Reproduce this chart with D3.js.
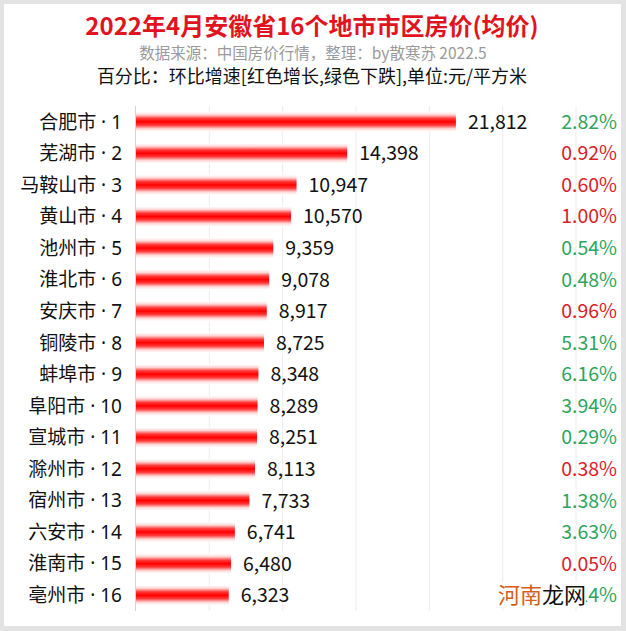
<!DOCTYPE html>
<html><head><meta charset="utf-8">
<script src="https://cdn.jsdelivr.net/npm/d3@7"></script>
<style>
html,body{margin:0;padding:0;background:#fff;}
svg{display:block;}
</style></head>
<body>
<svg id="chart" width="626" height="631"></svg>
<script>
const cities = ["合肥市","芜湖市","马鞍山市","黄山市","池州市","淮北市","安庆市","铜陵市","蚌埠市","阜阳市","宣城市","滁州市","宿州市","六安市","淮南市","亳州市"];
const prices = [21812,14398,10947,10570,9359,9078,8917,8725,8348,8289,8251,8113,7733,6741,6480,6323];
const changes = ["2.82%","0.92%","0.60%","1.00%","0.54%","0.48%","0.96%","5.31%","6.16%","3.94%","0.29%","0.38%","1.38%","3.63%","0.05%","1.14%"];
const changeDir = ["down","up","up","up","down","down","up","down","down","down","down","up","down","down","up","down"];
const xTicks = [0,5000,10000,15000,20000,25000,30000];
const title = "2022年4月安徽省16个地市市区房价(均价)";
const subtitle = "数据来源：中国房价行情，整理：by散寒苏 2022.5";
const note = "百分比：环比增速[红色增长,绿色下跌],单位:元/平方米";

const W=626,H=631;
const svg=d3.select("#chart");
const font="'Noto Sans CJK SC','Noto Sans',sans-serif";
const latinFirst="'Noto Sans','Noto Sans CJK SC',sans-serif";

// frame
svg.append("rect").attr("x",0).attr("y",0).attr("width",W).attr("height",H).attr("fill","#e3e3e3");
svg.append("rect").attr("x",4).attr("y",4).attr("width",W-9).attr("height",H-9).attr("fill","#fff");

const defs=svg.append("defs");
const g=defs.append("linearGradient").attr("id","barGrad").attr("x1",0).attr("y1",0).attr("x2",0).attr("y2",1);
[[0,"#ffffff"],[0.15,"#ffd6d6"],[0.33,"#ff3a3a"],[0.5,"#ff0000"],[0.67,"#ff3a3a"],[0.85,"#ffd6d6"],[1,"#ffffff"]]
 .forEach(s=>g.append("stop").attr("offset",s[0]).attr("stop-color",s[1]));

const x=d3.scaleLinear().domain([0,30000]).range([136,576]);
const y=d3.scaleBand().domain(cities).range([106,611]).padding(0);

// grid
svg.append("g").selectAll("line").data(xTicks.slice(1)).join("line")
  .attr("x1",d=>x(d)).attr("x2",d=>x(d)).attr("y1",106).attr("y2",611)
  .attr("stroke","#ececec").attr("stroke-width",1);
svg.append("line").attr("x1",x(0)-0.5).attr("x2",x(0)-0.5).attr("y1",106).attr("y2",611).attr("stroke","#d4d4d4");

// bars
const bh=20;
svg.append("g").selectAll("rect").data(cities).join("rect")
  .attr("x",x(0)).attr("y",(d)=>y(d)+y.bandwidth()/2-bh/2)
  .attr("width",(d,i)=>x(prices[i])-x(0)).attr("height",bh)
  .attr("fill","url(#barGrad)");

// category labels
svg.append("g").selectAll("text").data(cities).join("text")
  .attr("x",122).attr("y",d=>y(d)+y.bandwidth()/2)
  .attr("dy","0.36em").attr("text-anchor","end")
  .attr("font-family",latinFirst).attr("font-size",19).attr("fill","#111")
  .text((d,i)=>d+" · "+(i+1));

// values
svg.append("g").selectAll("text").data(cities).join("text")
  .attr("x",(d,i)=>x(prices[i])+12).attr("y",d=>y(d)+y.bandwidth()/2)
  .attr("dy","0.36em").attr("font-family",font).attr("font-size",19.5).attr("fill","#111")
  .text((d,i)=>d3.format(",")(prices[i]));

// percentages
svg.append("g").selectAll("text").data(cities).join("text")
  .attr("x",617).attr("y",d=>y(d)+y.bandwidth()/2)
  .attr("dy","0.36em").attr("text-anchor","end")
  .attr("font-family",font).attr("font-size",19.5)
  .attr("fill",(d,i)=>changeDir[i]==="up"?"#d9212b":"#2fa45c")
  .text((d,i)=>changes[i]);

// titles
svg.append("text").attr("x",312).attr("y",35).attr("text-anchor","middle")
  .attr("font-family",font).attr("font-weight","bold").attr("font-size",24).attr("fill","#e0141e").text(title);
svg.append("text").attr("x",313).attr("y",58.5).attr("text-anchor","middle")
  .attr("font-family",font).attr("font-size",15.5).attr("fill","#9a9a9a").text(subtitle);
svg.append("text").attr("x",312).attr("y",82.5).attr("text-anchor","middle")
  .attr("font-family",font).attr("font-size",18).attr("fill","#111").text(note);

// watermark overlay present in the reference image (covers part of the last percentage)
const wy=y(cities[15])+y.bandwidth()/2;
svg.append("rect").attr("x",499).attr("y",wy-13).attr("width",87).attr("height",26).attr("fill","#fff");
const wm=svg.append("text").attr("x",586).attr("y",wy).attr("dy","0.36em")
  .attr("text-anchor","end").attr("font-family",font).attr("font-size",22);
wm.append("tspan").attr("fill","#d2601a").text("河南");
wm.append("tspan").attr("fill","#111").text("龙网");
</script>
</body></html>
